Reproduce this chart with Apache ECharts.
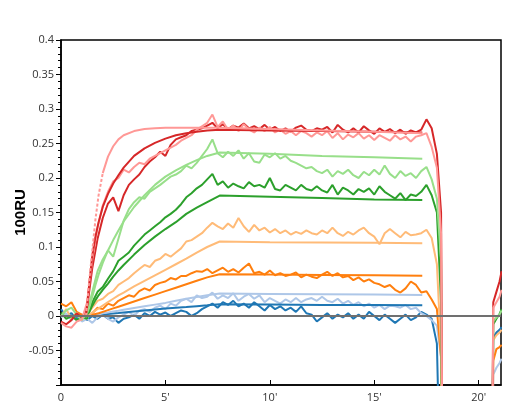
<!DOCTYPE html>
<html>
<head>
<meta charset="utf-8">
<script src="https://cdn.jsdelivr.net/npm/echarts@6/dist/echarts.min.js"></script>
<style>
html,body{margin:0;padding:0;background:#fff;}
#chart{width:505px;height:415px;}
</style>
</head>
<body>
<div id="chart"></div>
<script>
// time in minutes (sample positions)
const time = [0,0.25,0.5,0.75,1,1.25,1.5,1.75,2,2.25,2.5,2.75,3,3.25,3.5,3.75,4,4.25,4.5,4.75,5,5.25,5.5,5.75,6,6.25,6.5,6.75,7,7.25,7.5,7.75,8,8.25,8.5,8.75,9,9.25,9.5,9.75,10,10.25,10.5,10.75,11,11.25,11.5,11.75,12,12.25,12.5,12.75,13,13.25,13.5,13.75,14,14.25,14.5,14.75,15,15.25,15.5,15.75,16,16.25,16.5,16.75,17,17.25,17.5,17.75,18,18.2,18.32,19.5,20.58,20.7,20.85,21,21.1];

// measured responses (100RU)
const darkRed = [-0.008,-0.012,-0.006,0.004,-0.002,0.012,0.07,0.112,
0.142,0.163,0.172,0.152,0.175,0.19,0.198,0.205,
0.216,0.224,0.23,0.238,0.232,0.248,0.256,0.259,
0.262,0.268,0.27,0.272,0.276,0.28,0.272,0.278,
0.271,0.276,0.273,0.279,0.272,0.275,0.271,0.277,
0.27,0.274,0.268,0.272,0.267,0.273,0.276,0.27,
0.268,0.272,0.27,0.274,0.266,0.277,0.27,0.266,
0.272,0.266,0.275,0.269,0.264,0.272,0.267,0.271,
0.265,0.27,0.264,0.269,0.266,0.27,0.285,0.272,
0.235,0.15,
-0.5,null,-0.5,0.02,0.035,0.05,0.065];

const lightRed = [-0.01,-0.015,-0.017,-0.008,-0.005,0.02,0.082,0.128,
0.16,0.18,0.195,0.2,0.212,0.208,0.216,0.222,
0.22,0.228,0.232,0.236,0.24,0.244,0.248,0.254,
0.258,0.262,0.27,0.275,0.28,0.292,0.274,0.282,
0.27,0.276,0.268,0.278,0.27,0.266,0.273,0.268,
0.274,0.266,0.27,0.264,0.268,0.262,0.268,0.265,
0.26,0.266,0.262,0.268,0.258,0.265,0.256,0.263,
0.259,0.265,0.257,0.262,0.255,0.262,0.258,0.254,
0.262,0.256,0.26,0.253,0.26,0.262,0.265,0.245,
0.215,0.12,
-0.5,null,-0.5,0.012,0.02,0.028,0.038];

const lightGreen = [0,0.008,0.012,0.002,-0.006,0.005,0.035,0.065,
0.082,0.095,0.086,0.112,0.138,0.155,0.165,0.172,
0.17,0.18,0.185,0.19,0.196,0.202,0.205,0.21,
0.218,0.214,0.222,0.232,0.242,0.256,0.236,0.23,
0.238,0.232,0.24,0.228,0.236,0.224,0.222,0.234,
0.23,0.236,0.228,0.232,0.225,0.222,0.218,0.214,
0.216,0.21,0.207,0.212,0.202,0.21,0.206,0.212,
0.204,0.2,0.209,0.204,0.212,0.205,0.218,0.206,
0.2,0.21,0.203,0.207,0.2,0.21,0.216,0.198,
0.17,0.08,
-0.5,null,-0.5,-0.008,-0.002,0.002,0.008];

const green = [0.005,-0.004,0,-0.006,-0.002,-0.004,0.02,0.035,
0.042,0.054,0.065,0.08,0.086,0.092,0.102,0.11,
0.118,0.124,0.13,0.136,0.143,0.148,0.154,0.162,
0.172,0.178,0.185,0.19,0.198,0.206,0.19,0.195,
0.186,0.192,0.188,0.185,0.194,0.188,0.19,0.186,
0.2,0.184,0.182,0.19,0.186,0.182,0.19,0.184,
0.182,0.188,0.182,0.179,0.19,0.176,0.186,0.182,
0.176,0.184,0.18,0.185,0.176,0.188,0.18,0.175,
0.17,0.178,0.168,0.176,0.174,0.18,0.19,0.175,
0.15,0.02,
-0.5,null,-0.5,-0.012,-0.004,0.003,0.01];

const lightOrange = [0,0.01,-0.004,0.005,-0.005,0.002,0.012,0.022,
0.025,0.032,0.036,0.045,0.05,0.055,0.062,0.068,
0.074,0.071,0.08,0.083,0.09,0.086,0.092,0.098,
0.108,0.11,0.115,0.12,0.128,0.135,0.13,0.126,
0.134,0.128,0.142,0.13,0.122,0.132,0.124,0.128,
0.121,0.126,0.12,0.124,0.118,0.122,0.119,0.124,
0.12,0.118,0.124,0.12,0.128,0.12,0.116,0.122,
0.118,0.124,0.128,0.12,0.115,0.104,0.12,0.126,
0.12,0.114,0.122,0.117,0.118,0.12,0.125,0.113,
0.075,-0.05,
-0.5,null,-0.5,-0.035,-0.028,-0.024,-0.02];

const orange = [0.018,0.014,0.02,0.006,0.002,0,0.004,0.012,
0.01,0.018,0.015,0.022,0.026,0.03,0.028,0.036,
0.04,0.037,0.045,0.048,0.05,0.055,0.053,0.058,
0.058,0.062,0.065,0.064,0.068,0.062,0.066,0.07,
0.064,0.068,0.063,0.07,0.076,0.062,0.064,0.06,
0.066,0.059,0.062,0.058,0.06,0.063,0.056,0.06,
0.057,0.055,0.06,0.064,0.058,0.062,0.056,0.058,
0.052,0.056,0.05,0.053,0.048,0.046,0.042,0.045,
0.038,0.034,0.04,0.05,0.045,0.034,0.036,0.024,
0.01,-0.06,
-0.5,null,-0.5,-0.065,-0.048,-0.045,-0.042];

const lightBlue = [-0.002,0.004,-0.006,0.002,-0.008,-0.004,-0.01,-0.002,
0.004,-0.004,-0.008,-0.002,0.002,0.006,0,0.008,
0.01,0.006,0.012,0.015,0.01,0.018,0.015,0.022,
0.025,0.02,0.03,0.026,0.028,0.034,0.025,0.03,
0.026,0.033,0.022,0.028,0.032,0.025,0.03,0.02,
0.026,0.022,0.018,0.024,0.02,0.026,0.02,0.024,
0.026,0.022,0.028,0.022,0.02,0.025,0.018,0.022,
0.016,0.02,0.014,0.018,0.012,0.016,0.01,0.015,
0.014,0.012,0.016,0.01,0.012,0.004,0,-0.006,
-0.014,-0.06,
-0.5,null,-0.5,-0.085,-0.075,-0.068,-0.062];

const blue = [0.01,0,0.004,-0.004,0.002,-0.006,0,-0.004,
0.002,-0.004,-0.002,-0.01,-0.004,-0.002,0.002,-0.004,
0.004,0,0.006,0.002,0.005,0,0.004,0.008,
0.006,0,0.004,0.01,0.014,0.018,0.012,0.02,
0.016,0.022,0.014,0.018,0.012,0.02,0.014,0.008,
0.016,0.01,0.014,0.008,0.012,0.006,0.014,0.004,
0.002,-0.008,-0.002,0.004,-0.004,0.002,-0.002,0.004,
-0.004,0.002,-0.004,0.006,0,-0.006,0.002,-0.004,
-0.01,-0.004,0.002,-0.006,-0.002,0.006,0.002,-0.004,
-0.04,-0.3,
-0.5,null,-0.5,-0.032,-0.024,-0.02,-0.016];

// fitted curves
const fitTime = [1.2,1.35,1.5,1.65,1.8,2.0,2.25,2.5,2.75,3.0,3.5,4.0,4.5,5.0,5.5,6.0,6.5,7.0,7.6,10,12.5,15,17.3];
const lightRedFit = [0,0.05,0.095,0.14,0.175,0.207,0.231,0.246,0.256,0.262,0.268,0.271,0.272,0.273,0.273,0.273,0.273,0.273,0.273,0.271,0.269,0.267,0.265];
const darkRedFit = [0,0.045,0.088,0.115,0.136,0.158,0.177,0.192,0.204,0.215,0.232,0.243,0.251,0.257,0.262,0.265,0.267,0.269,0.27,0.269,0.268,0.267,0.266];
const lightGreenFit = [0,0.012,0.028,0.045,0.06,0.077,0.095,0.11,0.124,0.137,0.158,0.175,0.19,0.202,0.211,0.219,0.226,0.232,0.237,0.235,0.232,0.23,0.228];
const greenFit = [0,0.006,0.015,0.023,0.03,0.038,0.047,0.057,0.066,0.074,0.089,0.103,0.115,0.126,0.136,0.148,0.157,0.165,0.1745,0.173,0.171,0.169,0.168];
const lightOrangeFit = [0,0.002,0.005,0.008,0.011,0.015,0.02,0.025,0.03,0.034,0.043,0.051,0.059,0.067,0.075,0.083,0.092,0.1,0.108,0.107,0.1065,0.106,0.1055];
const orangeFit = [0,0.001,0.002,0.003,0.004,0.006,0.0085,0.011,0.0135,0.016,0.021,0.026,0.031,0.036,0.041,0.046,0.051,0.056,0.0606,0.06,0.0595,0.059,0.0585];
const lightBlueFit = [0,0.0005,0.001,0.0015,0.002,0.004,0.005,0.0065,0.0075,0.009,0.0115,0.014,0.0165,0.019,0.022,0.025,0.0275,0.03,0.0325,0.032,0.0315,0.031,0.0305];
const blueFit = [0,0.0003,0.0006,0.001,0.0014,0.002,0.0028,0.0035,0.0042,0.005,0.0065,0.008,0.0095,0.011,0.012,0.013,0.0143,0.0155,0.017,0.0165,0.016,0.016,0.0155];

const yTicks = { min: -0.1, max: 0.4, interval: 0.05 };
const xTicks = { min: 0, max: 21.07, interval: 5 };

const C = {
  blue:'#1f77b4', lightBlue:'#aec7e8', orange:'#ff7f0e', lightOrange:'#ffbb78',
  green:'#2ca02c', lightGreen:'#98df8a', red:'#d62728', lightRed:'#ff9896'
};

function pairs(xs, ys){ return xs.map((x,i)=>[x, ys[i]]); }
function dataSeries(name, ys, color){
  return { name, type:'line', data: pairs(time, ys), showSymbol:false, symbol:'none',
    connectNulls:false, lineStyle:{ color, width:2 }, itemStyle:{color}, z:2, silent:true };
}
function fitSeries(name, xs, ys, color, type){
  return { name, type:'line', data: pairs(xs, ys), showSymbol:false, symbol:'none',
    lineStyle:{ color, width:2, type: type || 'solid' }, itemStyle:{color}, z:3, silent:true };
}

const series = [
  dataSeries('blue', blue, C.blue),
  dataSeries('lightBlue', lightBlue, C.lightBlue),
  dataSeries('orange', orange, C.orange),
  dataSeries('lightOrange', lightOrange, C.lightOrange),
  dataSeries('green', green, C.green),
  dataSeries('lightGreen', lightGreen, C.lightGreen),
  dataSeries('red', darkRed, C.red),
  dataSeries('lightRed', lightRed, C.lightRed),
  fitSeries('blueFit', fitTime, blueFit, C.blue),
  fitSeries('lightBlueFit', fitTime, lightBlueFit, C.lightBlue),
  fitSeries('orangeFit', fitTime, orangeFit, C.orange),
  fitSeries('lightOrangeFit', fitTime, lightOrangeFit, C.lightOrange),
  fitSeries('greenFit', fitTime, greenFit, C.green),
  fitSeries('lightGreenFit', fitTime, lightGreenFit, C.lightGreen),
  fitSeries('redFit', fitTime, darkRedFit, C.red),
  fitSeries('lightRedFitRise', fitTime.slice(0,6), lightRedFit.slice(0,6), C.lightRed, [3,2]),
  fitSeries('lightRedFit', fitTime.slice(5), lightRedFit.slice(5), C.lightRed)
];
series.push({
  type:'line', data:[], silent:true, z:5,
  markLine:{ silent:true, symbol:['none','none'], label:{show:false},
    lineStyle:{ color:'#707070', width:2, type:'solid' },
    data:[{ yAxis: 0 }] }
});

const chart = echarts.init(document.getElementById('chart'), null, {renderer:'canvas'});
chart.setOption({
  animation:false,
  backgroundColor:'#fff',
  grid:{ left:61, right:4, top:40, bottom:30, show:true, borderColor:'#000', borderWidth:1.5,
    backgroundColor:'transparent', containLabel:false, outerBoundsMode:'none' },
  xAxis:{
    type:'value', min:xTicks.min, max:xTicks.max, interval:xTicks.interval,
    axisLine:{ show:true, onZero:false, lineStyle:{ color:'#000', width:1.5 } },
    axisTick:{ show:true, inside:true, length:5, lineStyle:{ color:'#000' } },
    splitLine:{ show:false },
    axisLabel:{ color:'#333', fontSize:11, fontFamily:'Open Sans', margin:7,
      showMaxLabel:false,
      formatter: v => v === 0 ? '0' : (v + "'") }
  },
  yAxis:{
    type:'value', min:yTicks.min, max:yTicks.max, interval:yTicks.interval,
    name:'100RU', nameLocation:'middle', nameGap:33, nameRotate:90, nameMoveOverlap:false,
    nameTextStyle:{ fontSize:15, fontWeight:'bold', color:'#000', fontFamily:'Liberation Sans' },
    axisLine:{ show:true, onZero:false, lineStyle:{ color:'#000', width:1.5 } },
    axisTick:{ show:true, inside:false, length:5, lineStyle:{ color:'#000' } },
    minorTick:{ show:true, splitNumber:5, length:3, lineStyle:{ color:'#000' } },
    splitLine:{ show:false },
    axisLabel:{ color:'#333', fontSize:11, fontFamily:'Open Sans', margin:7,
      showMinLabel:false,
      formatter: v => String(parseFloat(v.toFixed(2))) }
  },
  series
});
</script>
</body>
</html>
